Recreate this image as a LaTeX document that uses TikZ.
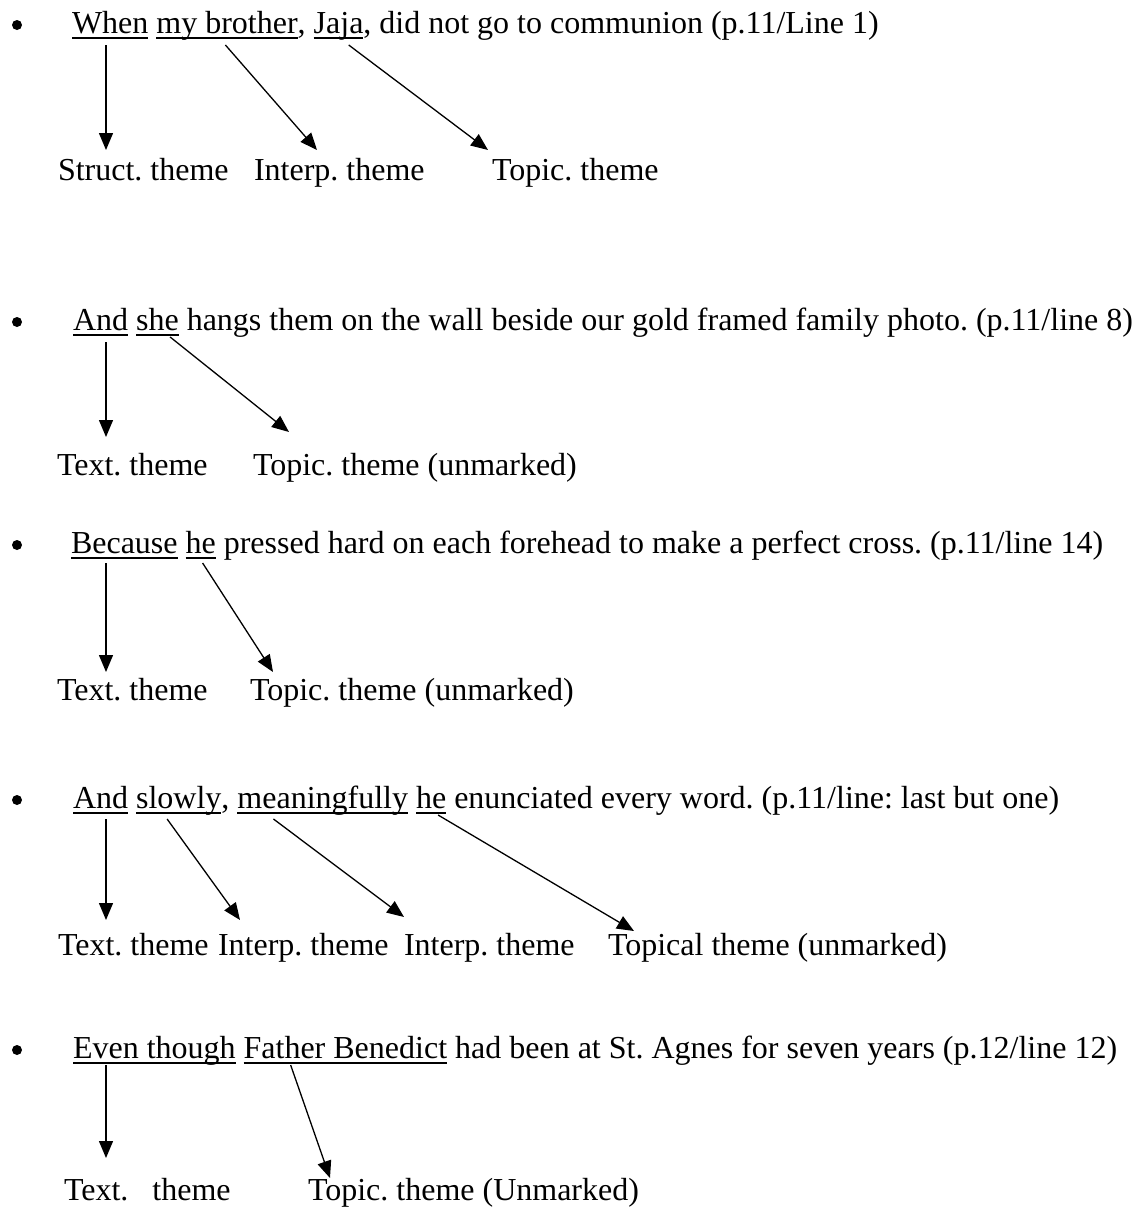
\documentclass[tikz,border=0pt]{standalone}
\usepackage{fontspec}
\setmainfont{Liberation Serif}
\usetikzlibrary{arrows.meta}
\frenchspacing
\newcommand\fs{\fontsize{32}{38}\selectfont\frenchspacing}
\def\spc{8pt}
\tikzset{
  txt/.style={inner sep=0pt, outer sep=0pt, anchor=base west, font=\fs},
  ul/.style={line width=1.5pt},
  arr/.style={line width=1.3pt, -{Triangle[length=17pt,width=14pt]}},
  bul/.style={circle, fill=black, inner sep=0pt, minimum size=10pt}
}
\begin{document}
\begin{tikzpicture}[x=1pt,y=-1pt]
\useasboundingbox[fill=white] (0,0) rectangle (1142,1211);

% ---------- sentence 1 ----------
\node[bul] (b1) at (17,25) {};
\node[txt] (l1a) at (72,33) {When};
\node[txt] (l1b) at ([xshift=\spc]l1a.base east) {my brother};
\node[txt] (l1c) at (l1b.base east) {,};
\node[txt] (l1d) at ([xshift=\spc]l1c.base east) {Jaja};
\node[txt] (l1e) at (l1d.base east) {, did not go to communion (p.11/Line 1)};
\foreach \w in {l1a,l1b,l1d}
  \draw[ul] ([yshift=-5pt]\w.base west) -- ([yshift=-5pt]\w.base east);
\node[txt] (s1a) at (58,180) {Struct. theme};
\node[txt] (s1b) at (254,180) {Interp. theme};
\node[txt] (s1c) at (492,180) {Topic. theme};
\draw[arr] ([xshift=34pt,yshift=-12pt]l1a.base west) -- ([xshift=48pt,yshift=30pt]s1a.base west);
\draw[arr] ([xshift=69pt,yshift=-12pt]l1b.base west) -- ([xshift=63pt,yshift=30pt]s1b.base west);
\draw[arr] ([xshift=35pt,yshift=-12pt]l1d.base west) -- ([xshift=-4pt,yshift=30pt]s1c.base west);

% ---------- sentence 2 ----------
\node[bul] (b2) at (17,322) {};
\node[txt] (l2a) at (73,330) {And};
\node[txt] (l2b) at ([xshift=\spc]l2a.base east) {she};
\node[txt] (l2c) at ([xshift=\spc]l2b.base east) {hangs them on the wall beside our gold framed family photo. (p.11/line 8)};
\foreach \w in {l2a,l2b}
  \draw[ul] ([yshift=-5pt]\w.base west) -- ([yshift=-5pt]\w.base east);
\node[txt] (t2a) at (57,475) {Text. theme};
\node[txt] (t2b) at (253,475) {Topic. theme (unmarked)};
\draw[arr] ([xshift=33pt,yshift=-12pt]l2a.base west) -- ([xshift=49pt,yshift=38pt]t2a.base west);
\draw[arr] ([xshift=34pt,yshift=-7pt]l2b.base west) -- ([xshift=36pt,yshift=43pt]t2b.base west);

% ---------- sentence 3 ----------
\node[bul] (b3) at (17,545) {};
\node[txt] (l3a) at (71,553) {Because};
\node[txt] (l3b) at ([xshift=\spc]l3a.base east) {he};
\node[txt] (l3c) at ([xshift=\spc]l3b.base east) {pressed hard on each forehead to make a perfect cross. (p.11/line 14)};
\foreach \w in {l3a,l3b}
  \draw[ul] ([yshift=-5pt]\w.base west) -- ([yshift=-5pt]\w.base east);
\node[txt] (t3a) at (57,700) {Text. theme};
\node[txt] (t3b) at (250,700) {Topic. theme (unmarked)};
\draw[arr] ([xshift=35pt,yshift=-10pt]l3a.base west) -- ([xshift=49pt,yshift=28pt]t3a.base west);
\draw[arr] ([xshift=17pt,yshift=-10pt]l3b.base west) -- ([xshift=23pt,yshift=28pt]t3b.base west);

% ---------- sentence 4 ----------
\node[bul] (b4) at (17,800) {};
\node[txt] (l4a) at (73,808) {And};
\node[txt] (l4b) at ([xshift=\spc]l4a.base east) {slowly};
\node[txt] (l4c) at (l4b.base east) {,};
\node[txt] (l4d) at ([xshift=\spc]l4c.base east) {meaningfully};
\node[txt] (l4e) at ([xshift=\spc]l4d.base east) {he};
\node[txt] (l4f) at ([xshift=\spc]l4e.base east) {enunciated every word. (p.11/line: last but one)};
\foreach \w in {l4a,l4b,l4d,l4e}
  \draw[ul] ([yshift=-5pt]\w.base west) -- ([yshift=-5pt]\w.base east);
\node[txt] (t4a) at (58,955) {Text. theme};
\node[txt] (t4b) at (218,955) {Interp. theme};
\node[txt] (t4c) at (404,955) {Interp. theme};
\node[txt] (t4d) at (608,955) {Topical theme (unmarked)};
\draw[arr] ([xshift=33pt,yshift=-11pt]l4a.base west) -- ([xshift=48pt,yshift=35pt]t4a.base west);
\draw[arr] ([xshift=31pt,yshift=-11pt]l4b.base west) -- ([xshift=22pt,yshift=35pt]t4b.base west);
\draw[arr] ([xshift=36pt,yshift=-11pt]l4d.base west) -- ([xshift=0pt,yshift=38pt]t4c.base west);
\draw[arr] ([xshift=22pt,yshift=-7pt]l4e.base west) -- ([xshift=26pt,yshift=24pt]t4d.base west);

% ---------- sentence 5 ----------
\node[bul] (b5) at (17,1050) {};
\node[txt] (l5a) at (73,1058) {Even though};
\node[txt] (l5b) at ([xshift=\spc]l5a.base east) {Father Benedict};
\node[txt] (l5c) at ([xshift=\spc]l5b.base east) {had been at St. Agnes for seven years (p.12/line 12)};
\foreach \w in {l5a,l5b}
  \draw[ul] ([yshift=-5pt]\w.base west) -- ([yshift=-5pt]\w.base east);
\node[txt] (t5a) at (64,1200) {Text.\hspace{24pt}theme};
\node[txt] (t5b) at (308,1200) {Topic. theme (Unmarked)};
\draw[arr] ([xshift=33pt,yshift=-7pt]l5a.base west) -- ([xshift=42pt,yshift=42pt]t5a.base west);
\draw[arr] ([xshift=47pt,yshift=-7pt]l5b.base west) -- ([xshift=22pt,yshift=22pt]t5b.base west);
\end{tikzpicture}
\end{document}
